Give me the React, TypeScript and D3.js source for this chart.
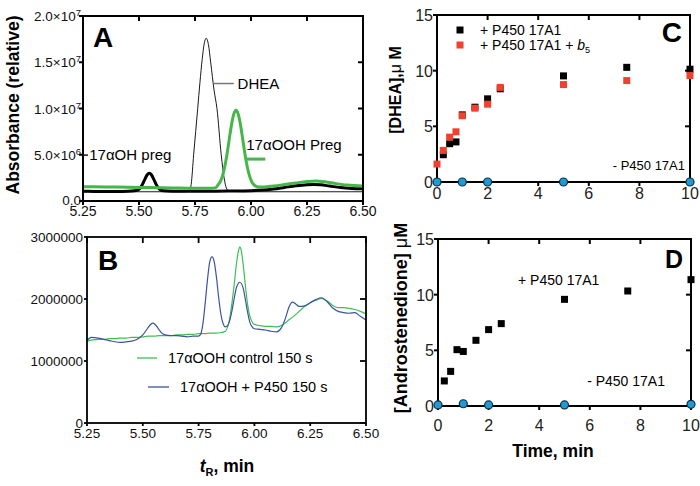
import React from "react";
import * as d3 from "d3";

// ---------- Panel A (values in millions) ----------
const aOHPreg: [number, number][] = [
  [5.25, 1.05], [5.3, 1.04], [5.35, 1.03], [5.4, 1.03], [5.45, 1.05], [5.48, 1.1],
  [5.496, 1.2], [5.506, 1.42], [5.516, 1.82], [5.526, 2.34], [5.536, 2.81], [5.546, 3.0],
  [5.556, 2.81], [5.566, 2.34], [5.576, 1.82], [5.586, 1.42], [5.596, 1.2], [5.61, 1.1],
  [5.65, 1.06], [5.7, 1.05], [5.8, 1.06], [5.9, 1.08], [6.0, 1.12], [6.05, 1.18],
  [6.1, 1.3], [6.15, 1.47], [6.2, 1.64], [6.25, 1.76], [6.28, 1.79], [6.31, 1.75],
  [6.35, 1.62], [6.4, 1.45], [6.45, 1.36], [6.5, 1.33],
];
const aOOHPreg: [number, number][] = [
  [5.25, 1.55], [5.35, 1.52], [5.45, 1.48], [5.55, 1.45], [5.65, 1.41], [5.75, 1.38],
  [5.82, 1.38], [5.843, 1.45], [5.853, 1.75], [5.863, 2.1], [5.873, 2.74], [5.883, 3.73],
  [5.893, 5.09], [5.903, 6.69], [5.913, 8.25], [5.923, 9.39], [5.933, 9.82], [5.943, 9.39],
  [5.953, 8.25], [5.963, 6.69], [5.973, 5.09], [5.983, 3.73], [5.993, 2.74], [6.003, 2.1],
  [6.013, 1.75], [6.033, 1.52], [6.06, 1.52], [6.1, 1.62], [6.15, 1.78], [6.2, 1.95],
  [6.25, 2.1], [6.29, 2.16], [6.33, 2.08], [6.38, 1.88], [6.43, 1.72], [6.5, 1.63],
];
const aDHEA: [number, number][] = [
  [5.25, 1.0], [5.5, 1.0], [5.7, 1.0], [5.725, 1.05], [5.733, 1.8], [5.744, 5.0],
  [5.753, 7.5], [5.762, 10.0], [5.772, 12.8], [5.782, 15.3], [5.791, 17.0], [5.8, 17.6],
  [5.81, 16.9], [5.82, 15.0], [5.835, 12.0], [5.848, 10.0], [5.867, 5.0], [5.88, 2.5],
  [5.89, 1.4], [5.905, 1.05], [6.0, 1.0], [6.5, 1.0],
];
const aXTicks = [5.25, 5.5, 5.75, 6.0, 6.25, 6.5];
const aYTicks = [0, 5, 10, 15, 20];
const aYLabels: [string, string][] = [["0.0", ""], ["5.0×10", "6"], ["1.0×10", "7"], ["1.5×10", "7"], ["2.0×10", "7"]];

// ---------- Panel B (values in millions) ----------
const bControl: [number, number][] = [
  [5.25, 1.32], [5.275, 1.34], [5.3, 1.35], [5.325, 1.35], [5.35, 1.36], [5.375, 1.36],
  [5.4, 1.37], [5.425, 1.37], [5.45, 1.38], [5.475, 1.38], [5.5, 1.39], [5.525, 1.4],
  [5.55, 1.4], [5.575, 1.41], [5.6, 1.41], [5.625, 1.41], [5.65, 1.42], [5.675, 1.42],
  [5.7, 1.43], [5.725, 1.43], [5.75, 1.44], [5.775, 1.44], [5.8, 1.45], [5.825, 1.45],
  [5.85, 1.46], [5.87, 1.48], [5.88, 1.55], [5.89, 1.7], [5.9, 1.95], [5.91, 2.25],
  [5.92, 2.58], [5.93, 2.8], [5.935, 2.84], [5.94, 2.8], [5.95, 2.55], [5.96, 2.2],
  [5.97, 1.9], [5.98, 1.72], [5.99, 1.63], [6.0, 1.59], [6.025, 1.57], [6.05, 1.56],
  [6.075, 1.56], [6.1, 1.55], [6.125, 1.58], [6.15, 1.65], [6.175, 1.72], [6.2, 1.8],
  [6.225, 1.88], [6.25, 1.94], [6.275, 1.98], [6.3, 2.01], [6.325, 1.97], [6.35, 1.9],
  [6.375, 1.86], [6.4, 1.86], [6.425, 1.85], [6.45, 1.83], [6.475, 1.8], [6.5, 1.76],
];
const bP450: [number, number][] = [
  [5.25, 1.33], [5.27, 1.38], [5.3, 1.37], [5.325, 1.35], [5.35, 1.33], [5.375, 1.31],
  [5.4, 1.3], [5.425, 1.31], [5.45, 1.32], [5.475, 1.35], [5.5, 1.42], [5.52, 1.52],
  [5.535, 1.59], [5.545, 1.61], [5.555, 1.59], [5.57, 1.52], [5.585, 1.45], [5.6, 1.42],
  [5.625, 1.41], [5.65, 1.41], [5.675, 1.4], [5.7, 1.39], [5.725, 1.4], [5.75, 1.4],
  [5.76, 1.44], [5.77, 1.62], [5.78, 1.95], [5.79, 2.32], [5.8, 2.6], [5.81, 2.68],
  [5.82, 2.6], [5.83, 2.35], [5.84, 2.02], [5.85, 1.75], [5.86, 1.6], [5.87, 1.55],
  [5.88, 1.57], [5.89, 1.66], [5.9, 1.82], [5.91, 2.02], [5.92, 2.19], [5.935, 2.27],
  [5.95, 2.17], [5.96, 1.98], [5.97, 1.78], [5.98, 1.62], [5.99, 1.55], [6.0, 1.52],
  [6.025, 1.51], [6.05, 1.5], [6.075, 1.48], [6.1, 1.47], [6.12, 1.53], [6.14, 1.7],
  [6.155, 1.87], [6.17, 1.95], [6.185, 1.92], [6.2, 1.88], [6.225, 1.89], [6.25, 1.94],
  [6.275, 1.99], [6.3, 2.02], [6.325, 1.96], [6.35, 1.86], [6.375, 1.8], [6.4, 1.78],
  [6.425, 1.77], [6.45, 1.78], [6.475, 1.72], [6.5, 1.66],
];
const bXTicks = [5.25, 5.5, 5.75, 6.0, 6.25, 6.5];
const bYTicks = [0, 1, 2, 3];
const bYLabels = ["0", "1000000", "2000000", "3000000"];

// ---------- Panel C ----------
const cTimesP450 = [0.25, 0.5, 0.75, 1, 1.5, 2, 2.5, 5, 7.5, 10];
const cDHEAP450 = [2.45, 3.44, 3.6, 6.03, 6.72, 7.47, 8.37, 9.53, 10.3, 10.13];
const cTimesB5 = [0, 0.25, 0.5, 0.75, 1, 1.5, 2, 2.5, 5, 7.5, 10];
const cDHEAB5 = [1.61, 2.84, 4.03, 4.51, 5.95, 6.63, 6.99, 8.5, 8.75, 9.11, 9.56];
const cTimesNone = [0, 1, 2, 5, 10];
const cDHEANone = [0, 0, 0, 0, 0];

// ---------- Panel D ----------
const dTimesP450 = [0.25, 0.5, 0.75, 1, 1.5, 2, 2.5, 5, 7.5, 10];
const dAndroP450 = [2.25, 3.11, 5.06, 4.9, 5.9, 6.86, 7.4, 9.58, 10.33, 11.35];
const dTimesNone = [0, 1, 2, 5, 10];
const dAndroNone = [0.1, 0.2, 0.1, 0.1, 0.15];

const cdXTicks = [0, 2, 4, 6, 8, 10];
const cdYTicks = [0, 5, 10, 15];

const FONT = "'Liberation Sans', Arial, Helvetica, sans-serif";
const GREEN_A = "#45b649";
const GREEN_B = "#3dbf55";
const BLUE_B = "#3b52a3";
const RED = "#f2402f";
const CYAN = "#1f9bd1";

type Sc = d3.ScaleLinear<number, number>;

function Frame({ x, y, xt, yt, sw, out, inn }: { x: Sc; y: Sc; xt: number[]; yt: number[]; sw: number; out: number; inn: number }) {
  const [x0, x1] = x.range();
  const [yb, yt0] = y.range();
  return (
    <g stroke="#000" strokeWidth={sw} fill="none">
      <rect x={x0} y={yt0} width={x1 - x0} height={yb - yt0} />
      {xt.map((t, i) => (
        <g key={"x" + i}>
          <line x1={x(t)} x2={x(t)} y1={yb} y2={yb + out} />
          <line x1={x(t)} x2={x(t)} y1={yt0} y2={yt0 + inn} />
        </g>
      ))}
      {yt.map((t, i) => (
        <g key={"y" + i}>
          <line x1={x0 - out} x2={x0} y1={y(t)} y2={y(t)} />
          <line x1={x1 - inn} x2={x1} y1={y(t)} y2={y(t)} />
        </g>
      ))}
    </g>
  );
}

export default function App() {
  const xA = d3.scaleLinear().domain([5.25, 6.5]).range([83, 363]);
  const yA = d3.scaleLinear().domain([0, 20]).range([201, 16]);
  const xB = d3.scaleLinear().domain([5.25, 6.5]).range([87, 366]);
  const yB = d3.scaleLinear().domain([0, 3]).range([423, 237]);
  const xC = d3.scaleLinear().domain([0, 10]).range([437, 690]);
  const yC = d3.scaleLinear().domain([0, 15]).range([182, 15]);
  const xD = d3.scaleLinear().domain([0, 10]).range([438, 691]);
  const yD = d3.scaleLinear().domain([0, 15]).range([406, 239]);

  const lineA = d3.line<[number, number]>().x((d) => xA(d[0])).y((d) => yA(d[1])).curve(d3.curveMonotoneX);
  const lineB = d3.line<[number, number]>().x((d) => xB(d[0])).y((d) => yB(d[1])).curve(d3.curveMonotoneX);

  const sq = 7;

  return (
    <svg width={700} height={486} style={{ position: "absolute", left: 0, top: 0, background: "#fff" }} fontFamily={FONT}>
      <rect width={700} height={486} fill="#fff" />

      {/* ================= Panel A ================= */}
      <path d={lineA(aDHEA) || ""} fill="none" stroke="#000" strokeWidth={0.9} />
      <path d={lineA(aOHPreg) || ""} fill="none" stroke="#000" strokeWidth={3} />
      <path d={lineA(aOOHPreg) || ""} fill="none" stroke={GREEN_A} strokeWidth={3} />
      <Frame x={xA} y={yA} xt={aXTicks} yt={aYTicks} sw={2} out={4} inn={5} />
      {aXTicks.map((t, i) => (
        <text key={i} x={xA(t)} y={216} fontSize={14} textAnchor="middle" fill="#111">{t.toFixed(2)}</text>
      ))}
      {aYTicks.map((t, i) => (
        <text key={i} x={81} y={yA(t) + (i === 0 ? 4 : 5)} fontSize={13.5} textAnchor="end" fill="#111">
          {aYLabels[i][0]}
          {aYLabels[i][1] && <tspan dy={-5} fontSize={9.5}>{aYLabels[i][1]}</tspan>}
        </text>
      ))}
      <text transform="translate(19,105) rotate(-90)" fontSize={17.5} fontWeight="bold" textAnchor="middle">Absorbance (relative)</text>
      <text x={93} y={47} fontSize={28} fontWeight="bold">A</text>
      {/* annotations */}
      <line x1={xA(5.833)} x2={xA(5.923)} y1={yA(12.7)} y2={yA(12.7)} stroke="#777" strokeWidth={1.5} />
      <text x={xA(5.94)} y={yA(12.7) + 5} fontSize={15}>DHEA</text>
      <line x1={xA(5.982)} x2={xA(6.064)} y1={yA(4.53)} y2={yA(4.53)} stroke={GREEN_A} strokeWidth={3} />
      <text x={xA(5.979)} y={yA(6.04) + 5} fontSize={15}>17αOOH Preg</text>
      <line x1={xA(5.25)} x2={xA(5.272)} y1={yA(4.96)} y2={yA(4.96)} stroke="#222" strokeWidth={1.6} />
      <text x={xA(5.278)} y={yA(4.96) + 5} fontSize={15}>17αOH preg</text>

      {/* ================= Panel B ================= */}
      <path d={lineB(bControl) || ""} fill="none" stroke={GREEN_B} strokeWidth={1.2} />
      <path d={lineB(bP450) || ""} fill="none" stroke={BLUE_B} strokeWidth={1.2} />
      <Frame x={xB} y={yB} xt={bXTicks} yt={bYTicks} sw={1.8} out={3} inn={6} />
      {bXTicks.map((t, i) => (
        <text key={i} x={xB(t)} y={438} fontSize={13.5} textAnchor="middle" fill="#111">{t.toFixed(2)}</text>
      ))}
      {bYTicks.map((t, i) => (
        <text key={i} x={83} y={yB(t) + 5} fontSize={13.5} textAnchor="end" fill="#111">{bYLabels[i]}</text>
      ))}
      <text x={98} y={270} fontSize={28} fontWeight="bold">B</text>
      <line x1={137} x2={157} y1={358} y2={358} stroke={GREEN_B} strokeWidth={1.3} />
      <text x={168} y={363} fontSize={14.5}>17αOOH control 150 s</text>
      <line x1={148} x2={169} y1={387} y2={387} stroke={BLUE_B} strokeWidth={1.3} />
      <text x={180} y={392} fontSize={14.5}>17αOOH + P450 150 s</text>
      <text x={227} y={472} fontSize={17.5} fontWeight="bold" textAnchor="middle">
        <tspan fontStyle="italic">t</tspan>
        <tspan fontSize={11} dy={4}>R</tspan>
        <tspan dy={-4}>, min</tspan>
      </text>

      {/* ================= Panel C ================= */}
      <Frame x={xC} y={yC} xt={cdXTicks} yt={cdYTicks} sw={2} out={4} inn={5} />
      {cTimesP450.map((t, i) => (
        <rect key={i} x={xC(t) - sq / 2} y={yC(cDHEAP450[i]) - sq / 2} width={sq} height={sq} fill="#000" />
      ))}
      {cTimesB5.map((t, i) => (
        <rect key={i} x={xC(t) - sq / 2} y={yC(cDHEAB5[i]) - sq / 2} width={sq} height={sq} fill={RED} />
      ))}
      {cTimesNone.map((t, i) => (
        <circle key={i} cx={xC(t)} cy={yC(cDHEANone[i])} r={4} fill={CYAN} stroke="#0b2f48" strokeWidth={1.2} />
      ))}
      {cdXTicks.map((t, i) => (
        <text key={i} x={xC(t)} y={199} fontSize={16} textAnchor="middle" fill="#222">{t}</text>
      ))}
      {cdYTicks.map((t, i) => (
        <text key={i} x={433} y={yC(t) + 6} fontSize={16} textAnchor="end" fill="#222">{t}</text>
      ))}
      <text transform="translate(401,90) rotate(-90)" fontSize={16} fontWeight="bold" textAnchor="middle">
        [DHEA],<tspan fontWeight="normal">μ</tspan> M
      </text>
      <text x={682} y={42} fontSize={28} fontWeight="bold" textAnchor="end">C</text>
      <rect x={460 - sq / 2} y={30 - sq / 2} width={sq} height={sq} fill="#000" />
      <text x={480} y={35} fontSize={14}>+ P450 17A1</text>
      <rect x={460 - sq / 2} y={45 - sq / 2} width={sq} height={sq} fill={RED} />
      <text x={480} y={50} fontSize={14}>
        + P450 17A1 + <tspan fontStyle="italic">b</tspan>
        <tspan fontSize={9} dy={3}>5</tspan>
      </text>
      <text x={685} y={170} fontSize={13} textAnchor="end">- P450 17A1</text>

      {/* ================= Panel D ================= */}
      <Frame x={xD} y={yD} xt={cdXTicks} yt={cdYTicks} sw={2} out={4} inn={5} />
      {dTimesP450.map((t, i) => (
        <rect key={i} x={xD(t) - sq / 2} y={yD(dAndroP450[i]) - sq / 2} width={sq} height={sq} fill="#000" />
      ))}
      {dTimesNone.map((t, i) => (
        <circle key={i} cx={xD(t)} cy={yD(dAndroNone[i])} r={4} fill={CYAN} stroke="#0b2f48" strokeWidth={1.2} />
      ))}
      {cdXTicks.map((t, i) => (
        <text key={i} x={xD(t)} y={431} fontSize={16} textAnchor="middle" fill="#222">{t}</text>
      ))}
      {cdYTicks.map((t, i) => (
        <text key={i} x={434} y={yD(t) + 6} fontSize={16} textAnchor="end" fill="#222">{t}</text>
      ))}
      <text transform="translate(407,318) rotate(-90)" fontSize={18} fontWeight="bold" textAnchor="middle">
        [Androstenedione] <tspan fontWeight="normal">μ</tspan>M
      </text>
      <text x={683} y={268} fontSize={25} fontWeight="bold" textAnchor="end">D</text>
      <text x={518} y={285} fontSize={14}>+ P450 17A1</text>
      <text x={665} y={386} fontSize={14} textAnchor="end">- P450 17A1</text>
      <text x={553} y={457} fontSize={17.5} fontWeight="bold" textAnchor="middle">Time, min</text>
    </svg>
  );
}
